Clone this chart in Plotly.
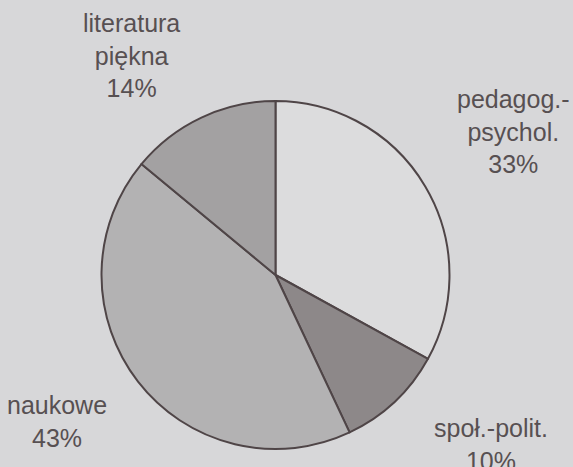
import plotly.graph_objects as go

# Data
categories = ["pedagog.-<br>psychol.", "społ.-polit.", "naukowe", "literatura<br>piękna"]
values = [33, 10, 43, 14]
slice_colors = ["#dcdcdd", "#8d8889", "#b3b2b3", "#a3a1a2"]

W, H = 573, 467
bg = "#d7d7d9"
text_color = "#575052"
edge_color = "#4f4547"

# Pie geometry (pixels)
cx, cy, r = 275.5, 275.0, 174.0

fig = go.Figure(
    go.Pie(
        values=values,
        labels=categories,
        sort=False,
        direction="clockwise",
        rotation=0,
        textinfo="none",
        hoverinfo="label+percent",
        marker=dict(colors=slice_colors, line=dict(color=edge_color, width=2)),
        domain=dict(
            x=[(cx - r) / W, (cx + r) / W],
            y=[(H - (cy + r)) / H, (H - (cy - r)) / H],
        ),
        showlegend=False,
    )
)

# Label positions (pixel centers of the text blocks)
label_pos = [(513, 131), (491, 444), (57, 421), (131, 55)]
for cat, v, (px, py) in zip(categories, values, label_pos):
    fig.add_annotation(
        x=px / W, y=1 - py / H, xref="paper", yref="paper",
        text=f"{cat}<br>{v}%", showarrow=False,
        xanchor="center", yanchor="middle", align="center",
        font=dict(family="Liberation Sans, Arial, sans-serif", size=25, color=text_color),
    )

fig.update_layout(
    width=W, height=H,
    margin=dict(l=0, r=0, t=0, b=0),
    paper_bgcolor=bg, plot_bgcolor=bg,
)

fig.write_html("out.html")
